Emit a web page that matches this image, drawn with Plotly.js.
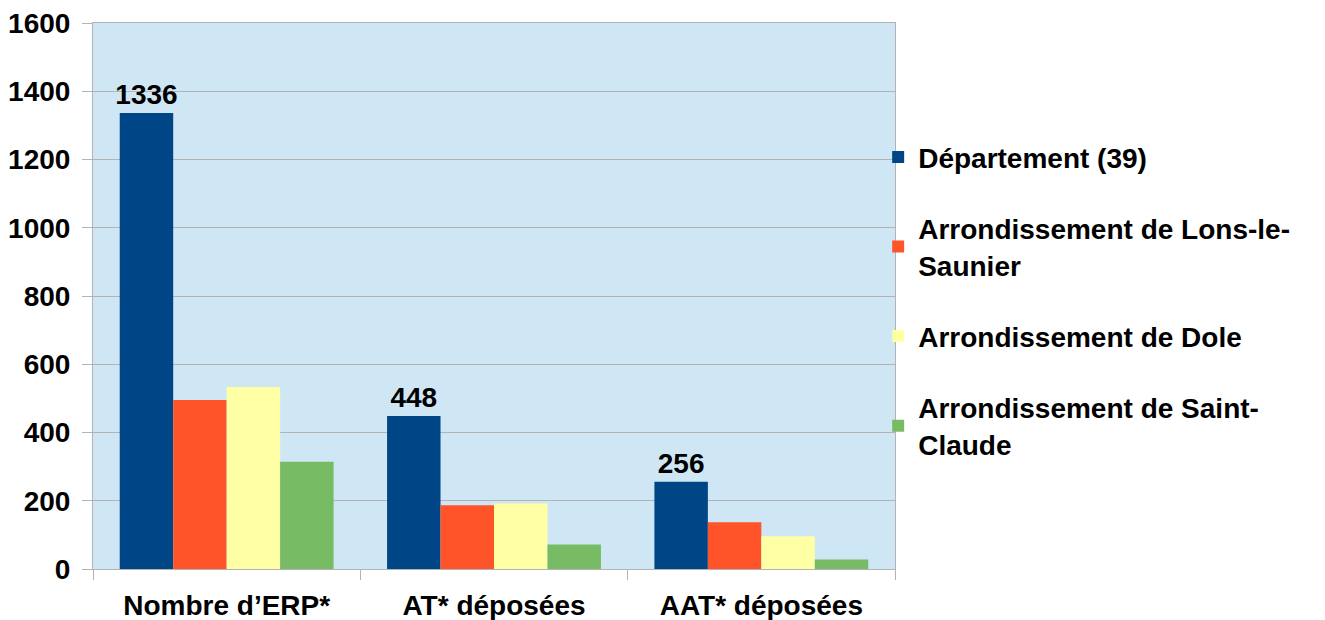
<!DOCTYPE html>
<html>
<head>
<meta charset="utf-8">
<script src="https://cdn.plot.ly/plotly-3.0.1.min.js"></script>
<style>html,body{margin:0;padding:0;background:#fff;}#chart{width:1325px;height:620px;}</style>
</head>
<body>
<div id="chart"></div>
<script>
const categories = ["Nombre d’ERP*", "AT* déposées", "AAT* déposées"];
const seriesNames = ["Département (39)", "Arrondissement de Lons-le-<br>Saunier", "Arrondissement de Dole", "Arrondissement de Saint-<br>Claude"];
const departement = [1336, 448, 256];
const lons = [495, 187, 137];
const dole = [533, 192, 96];
const saintClaude = [314, 72, 28];
const colors = ["#004586", "#ff5429", "#ffffa6", "#77bc65"];
const yTicks = [0, 200, 400, 600, 800, 1000, 1200, 1400, 1600];

const font = {family: "Liberation Sans, Arial, sans-serif", size: 28, color: "#000", weight: "bold"};
const values = [departement, lons, dole, saintClaude];
const traces = values.map((v, i) => {
  const t = {
    type: "bar", x: categories, y: v, name: seriesNames[i],
    marker: {color: colors[i], line: {width: 0}},
    legendgroup: "g" + i,
    hoverinfo: "skip"
  };
  if (i === 0) {
    t.text = v.map(String);
    t.textposition = "outside";
    t.textfont = font;
    t.constraintext = "none";
    t.cliponaxis = false;
  }
  return t;
});

const layout = {
  width: 1325, height: 620,
  margin: {l: 93, r: 430, t: 23, b: 51},
  paper_bgcolor: "#ffffff",
  plot_bgcolor: "#cfe7f5",
  font: font,
  barmode: "group",
  bargap: 0.2,
  bargroupgap: 0,
  uniformtext: {mode: false},
  showlegend: true,
  legend: {
    x: 0.979, xanchor: "left", y: 0.80, yanchor: "top",
    bgcolor: "rgba(0,0,0,0)", font: font,
    traceorder: "grouped", tracegroupgap: 32,
    itemclick: false
  },
  xaxis: {
    type: "category",
    tickson: "boundaries",
    ticks: "outside", ticklen: 10, tickcolor: "#b3b3b3", tickwidth: 1,
    showline: true, linecolor: "#b3b3b3", linewidth: 1, mirror: true,
    showgrid: false,
    tickfont: font,
    ticklabelstandoff: 11
  },
  yaxis: {
    range: [0, 1600],
    tickvals: yTicks, ticktext: yTicks.map(String),
    ticks: "outside", ticklen: 10, tickcolor: "#b3b3b3", tickwidth: 1,
    showline: true, linecolor: "#b3b3b3", linewidth: 1, mirror: true,
    showgrid: true, gridcolor: "#b3b3b3", gridwidth: 1,
    zeroline: false,
    tickfont: font,
    ticklabelstandoff: 6
  }
};

Plotly.newPlot("chart", traces, layout, {displayModeBar: false, staticPlot: true});
</script>
</body>
</html>
